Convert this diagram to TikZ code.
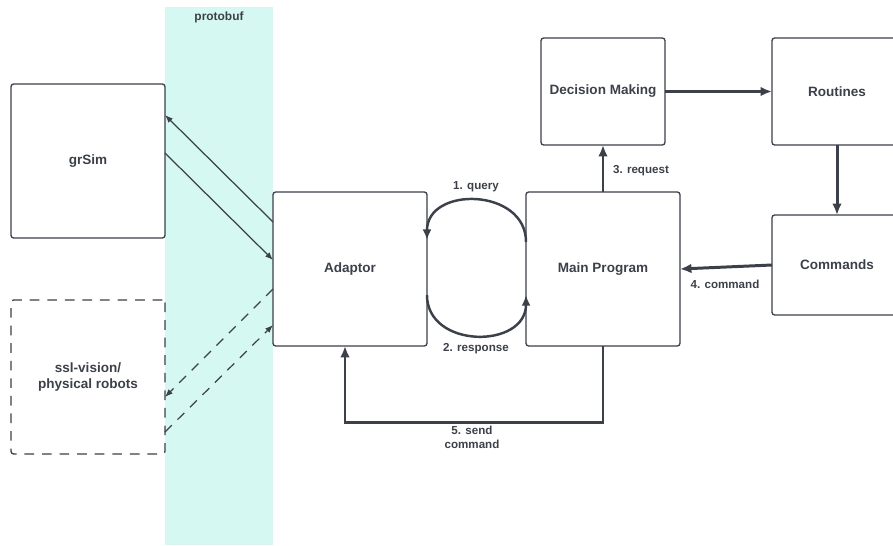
\documentclass[tikz,border=0pt]{standalone}
\usepackage{fontspec}
\setmainfont{Liberation Sans}
\usetikzlibrary{positioning}
\usetikzlibrary{arrows.meta}
\definecolor{inkgray}{HTML}{3B4049}
\definecolor{protocyan}{HTML}{D6F8F2}

\begin{document}
\begin{tikzpicture}[
    x=0.02cm, y=-0.02cm,
    font=\bfseries\fontsize{7.7}{9.5}\selectfont,
    block/.style={draw=inkgray,line width=0.75pt,rounded corners=1.5pt,text=inkgray,
      minimum width=3.08cm,minimum height=3.08cm,inner sep=0pt,outer sep=0pt,align=center},
    thinlink/.style={draw=inkgray,line width=0.7pt,-{Latex[length=4.5pt,width=3.5pt]}},
    dashlink/.style={thinlink,dash pattern=on 5.5pt off 4.5pt},
    thicklink/.style={draw=inkgray,line width=1.7pt,-{Latex[length=6.5pt,width=5.5pt]}},
    looplink/.style={draw=inkgray,line width=1.4pt,-{Latex[length=6pt,width=5pt]}},
    tag/.style={text=inkgray,font=\bfseries\fontsize{6.6}{8}\selectfont,align=center,inner sep=1pt}
    ]

    \clip (0,0) rectangle (893,545);
    \fill[protocyan] (165,7) rectangle (273,545);
    \node[tag, font=\bfseries\fontsize{6.8}{8}\selectfont] (proto) at (219,17) {protobuf};

    \node[block] (grsim) at (88,161) {grSim};
    \node[block, dash pattern=on 5.5pt off 4.5pt] (vision) at (88,377) {ssl-vision/\\physical robots};
    \node[block] (adaptor) at (350,269) {Adaptor};
    \node[block] (mainprog) at (603,269) {Main Program};
    \node[block, minimum width=2.48cm, minimum height=2.14cm] (decision) at (603,91.5) {Decision Making};
    \node[block, minimum width=2.6cm, minimum height=2.14cm] (routines) at (837,91.5) {Routines};
    \node[block, minimum width=2.6cm, minimum height=2cm] (commands) at (837,265) {Commands};

    \draw[thinlink] (adaptor.west |- 0,222) -- (grsim.east |- 0,115);
    \draw[thinlink] (grsim.east |- 0,153) -- (adaptor.west |- 0,260);
    \draw[dashlink] (adaptor.west |- 0,289) -- (vision.east |- 0,397);
    \draw[dashlink] (vision.east |- 0,432) -- (adaptor.west |- 0,325);

    \draw[looplink] (mainprog.west |- 0,242) to[out=90,in=90,looseness=1.4] (adaptor.east |- 0,240);
    \draw[looplink] (adaptor.east |- 0,295) to[out=-90,in=-90,looseness=1.4] (mainprog.west |- 0,295);
    \node[tag] (query) at (476,187) {1. query};
    \node[tag] (response) at (476,349) {2. response};

    \draw[thicklink] (mainprog.north) -- (decision.south);
    \node[tag] (request) at (641,171) {3. request};
    \draw[thicklink] (decision.east) -- (routines.west);
    \draw[thicklink] (routines.south) -- (commands.north);
    \draw[thicklink] (commands.west) -- (mainprog.east);
    \node[tag] (command) at (725,284) {4. command};
    \draw[thicklink] (mainprog.south) -- ++(0,77) -| (adaptor.south -| 345,0);
    \node[tag] (send) at (472,437) {5. send\\command};

\end{tikzpicture}
\end{document}
